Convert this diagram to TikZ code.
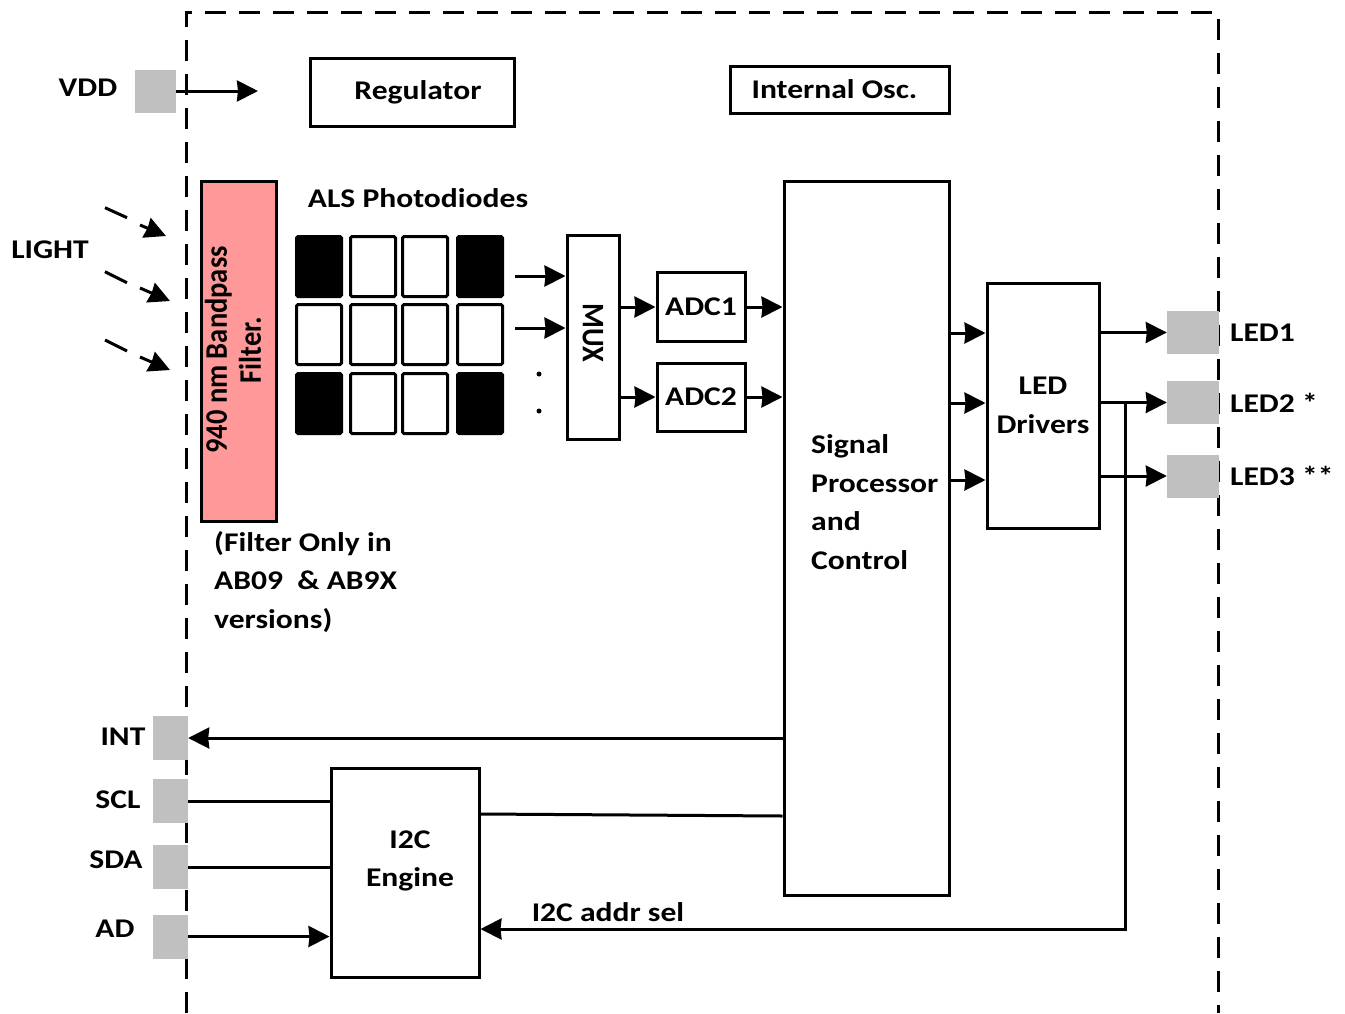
\documentclass[tikz,border=0pt]{standalone}
\usepackage{fontspec}
\setmainfont{Carlito}[FakeStretch=1.17]
\newfontfamily\rotfont{Carlito}
\usetikzlibrary{arrows.meta}
\definecolor{pingray}{HTML}{C0C0C0}
\definecolor{filterpink}{HTML}{FF9999}
\begin{document}
\begin{tikzpicture}[x=1pt,y=-1pt,
  every node/.style={font=\fontsize{27}{38.5}\selectfont\bfseries, inner sep=0pt},
  blk/.style={draw, line width=3pt, fill=white},
  pin/.style={fill=pingray, draw=none},
  cellw/.style={draw, line width=3pt, rounded corners=1.5pt, fill=white, minimum width=45pt, minimum height=60pt},
  cellb/.style={cellw, fill=black},
  wire/.style={line width=3pt},
  arr/.style={wire, -{Stealth[length=21pt, width=21pt, inset=1pt]}},
  border/.style={line width=3pt, dash pattern=on 21pt off 13pt}
]
\useasboundingbox (0,0) rectangle (1345,1013);

% chip outline
\draw[border] (186,1013) -- (186,12) -- (1218,12) -- (1218,1013);

% pins
\node[pin, minimum width=41pt, minimum height=43pt] (vdd) at (155.5,91) {};
\node[pin, minimum width=52pt, minimum height=43pt] (led1) at (1193,332.5) {};
\node[pin, minimum width=52pt, minimum height=43pt] (led2) at (1193,402.5) {};
\node[pin, minimum width=52pt, minimum height=43pt] (led3) at (1193,476) {};
\node[pin, minimum width=35pt, minimum height=44pt] (int) at (170.5,738) {};
\node[pin, minimum width=35pt, minimum height=44pt] (scl) at (170.5,801) {};
\node[pin, minimum width=35pt, minimum height=44pt] (sda) at (170.5,867) {};
\node[pin, minimum width=35pt, minimum height=44pt] (ad) at (170.5,936.5) {};

% pin labels
\node (lvdd) at (88,88) {VDD};
\node (llight) at (50,250) {LIGHT};
\node[anchor=west] (lled1) at (1230,333) {LED1};
\node[anchor=west] (lled2) at (1230,403) {LED2 *};
\node[anchor=west] (lled3) at (1230,476) {LED3 **};
\node (lint) at (123,737) {INT};
\node (lscl) at (118,800) {SCL};
\node (lsda) at (116,860) {SDA};
\node (lad) at (115,929) {AD};

% blocks
\node[blk, minimum width=204pt, minimum height=68pt] (reg) at (412,92) {\hspace*{12pt}Regulator};
\node[blk, minimum width=219pt, minimum height=47pt] (osc) at (839.5,89.5) {Internal Osc.\hspace*{10pt}};
\node[blk, fill=filterpink, minimum width=75pt, minimum height=340pt] (filter) at (238.5,351) {};
\node[rotate=90] (filtertext) at (237,350) {\rotfont\fontsize{28.5}{31}\selectfont\bfseries\scalebox{1}[1.1]{\begin{tabular}{@{}c@{}}940 nm Bandpass\\Filter.\end{tabular}}};
\node[anchor=west, align=left] (note) at (214,582) {(Filter Only in\\AB09\ \ \& AB9X\\versions)};
\node (als) at (418,198) {ALS Photodiodes};

% photodiode grid
\node[cellb] (pd11) at (319,266.5) {};
\node[cellw] (pd12) at (373,266.5) {};
\node[cellw] (pd13) at (425,266.5) {};
\node[cellb] (pd14) at (480,266.5) {};
\node[cellw] (pd21) at (319,334.5) {};
\node[cellw] (pd22) at (373,334.5) {};
\node[cellw] (pd23) at (425,334.5) {};
\node[cellw] (pd24) at (480,334.5) {};
\node[cellb] (pd31) at (319,403.5) {};
\node[cellw] (pd32) at (373,403.5) {};
\node[cellw] (pd33) at (425,403.5) {};
\node[cellb] (pd34) at (480,403.5) {};

\node[blk, minimum width=52pt, minimum height=204pt] (mux) at (593,337) {};
\node[rotate=-90] (muxtext) at (593,333) {\rotfont\fontsize{28.5}{31}\selectfont\bfseries\scalebox{1}[1.1]{MUX}};
\node[blk, minimum width=88pt, minimum height=69pt] (adc1) at (701,307) {ADC1};
\node[blk, minimum width=88pt, minimum height=68pt] (adc2) at (701,397) {ADC2};
\node[blk, minimum width=165pt, minimum height=714pt] (sp) at (866.5,538) {};
\node[anchor=west, align=left] (sptext) at (811,502) {Signal\\Processor\\and\\Control};
\node[blk, minimum width=112pt, minimum height=245pt, align=center] (led) at (1043,405.5) {LED\\Drivers};
\node[blk, minimum width=148pt, minimum height=209pt] (i2c) at (405,872.5) {};
\node[align=center] (i2ctext) at (410,861) {I2C\\Engine};
\node (addrlbl) at (608,912) {I2C addr sel};

% dots
\fill (539,374) circle (2.5pt);
\fill (539,411) circle (2.5pt);

% light arrows
\draw[wire] (105,207.7) -- (127,217.7);
\draw[arr] (140,225) -- (166,236);
\draw[wire] (105,271.7) -- (127,282.7);
\draw[arr] (140,288) -- (170,301);
\draw[wire] (105,340) -- (127,351);
\draw[arr] (140,357) -- (170,370);

% coordinates
\coordinate (vddend) at (258,91);
\coordinate (in1) at (515,276);
\coordinate (in2) at (515,328);
\coordinate (r1) at (0,333);
\coordinate (r2) at (0,403);
\coordinate (r3) at (0,480);
\coordinate (br1) at (1125,402.5);
\coordinate (br2) at (1125,929);
\coordinate (busL) at (0,814);
\coordinate (busR) at (0,816);

% connectors
\draw[arr] (vdd.east) -- (vddend);
\draw[arr] (in1) -- (in1 -| mux.west);
\draw[arr] (in2) -- (in2 -| mux.west);
\draw[arr] (mux.east |- adc1) -- (adc1.west);
\draw[arr] (mux.east |- adc2) -- (adc2.west);
\draw[arr] (adc1.east) -- (adc1.east -| sp.west);
\draw[arr] (adc2.east) -- (adc2.east -| sp.west);
\draw[arr] (sp.east |- r1) -- (led.west |- r1);
\draw[arr] (sp.east |- r2) -- (led.west |- r2);
\draw[arr] (sp.east |- r3) -- (led.west |- r3);
\draw[arr] (led.east |- led1) -- (led1.west);
\draw[arr] (led.east |- led2) -- (led2.west);
\draw[arr] (led.east |- led3) -- (led3.west);
\draw[arr] (br1) -- (br2) -- (br2 -| i2c.east);
\draw[arr] (sp.west |- int) -- (int.east);
\draw[wire] (scl.east) -- (scl.east -| i2c.west);
\draw[wire] (sda.east) -- (sda.east -| i2c.west);
\draw[arr] (ad.east) -- (ad.east -| i2c.west);
\draw[wire] (i2c.east |- busL) -- (sp.west |- busR);
\end{tikzpicture}
\end{document}
